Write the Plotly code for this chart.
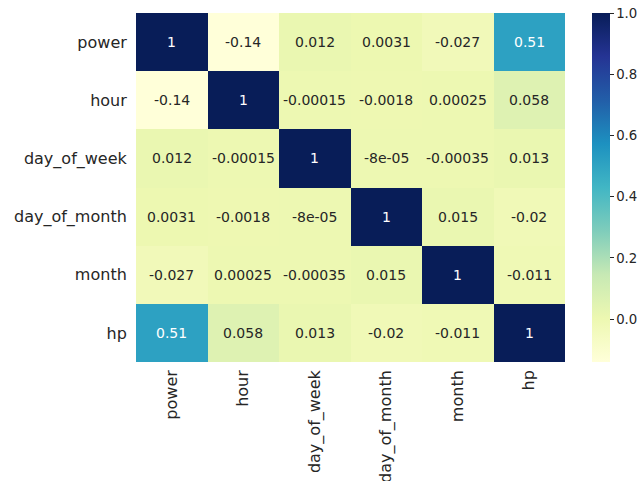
import plotly.graph_objects as go

labels = ["power", "hour", "day_of_week", "day_of_month", "month", "hp"]
row_power = [1, -0.14, 0.012, 0.0031, -0.027, 0.51]
row_hour = [-0.14, 1, -0.00015, -0.0018, 0.00025, 0.058]
row_dow = [0.012, -0.00015, 1, -8e-05, -0.00035, 0.013]
row_dom = [0.0031, -0.0018, -8e-05, 1, 0.015, -0.02]
row_month = [-0.027, 0.00025, -0.00035, 0.015, 1, -0.011]
row_hp = [0.51, 0.058, 0.013, -0.02, -0.011, 1]
cbar_ticks = [0.0, 0.2, 0.4, 0.6, 0.8, 1.0]

z = [row_power, row_hour, row_dow, row_dom, row_month, row_hp]

ylgnbu = [
    [0.0, "#ffffd9"], [0.125, "#edf8b1"], [0.25, "#c7e9b4"], [0.375, "#7fcdbb"],
    [0.5, "#41b6c4"], [0.625, "#1d91c0"], [0.75, "#225ea8"], [0.875, "#253494"],
    [1.0, "#081d58"],
]

zmin, zmax = -0.14, 1.0

fig = go.Figure(go.Heatmap(
    z=z, x=labels, y=labels,
    colorscale=ylgnbu, zmin=zmin, zmax=zmax,
    xgap=0, ygap=0,
    colorbar=dict(
        x=1.063, xanchor="left", xpad=0, ypad=0,
        thickness=18, len=1, lenmode="fraction", y=0.5, yanchor="middle",
        outlinewidth=0, ticks="outside", ticklen=4, tickwidth=1, tickcolor="#262626",
        tickvals=cbar_ticks, tickformat=".1f",
        tickfont=dict(family="DejaVu Sans", size=13.3, color="#262626"),
    ),
    hoverinfo="skip",
))

for i, row in enumerate(z):
    for j, v in enumerate(row):
        frac = (v - zmin) / (zmax - zmin)
        col = "white" if frac > 0.5 else "#262626"
        fig.add_annotation(x=labels[j], y=labels[i], text="{:.2g}".format(v),
                           showarrow=False,
                           font=dict(family="DejaVu Sans", size=14, color=col))

fig.update_layout(
    width=639, height=481,
    margin=dict(l=136, r=74, t=13, b=119, autoexpand=False),
    plot_bgcolor="white", paper_bgcolor="white",
    font=dict(family="DejaVu Sans", color="#262626"),
)
fig.update_xaxes(tickangle=-90, ticks="", ticklabelstandoff=4,
                 tickfont=dict(size=16, color="#262626"), showgrid=False, zeroline=False)
fig.update_yaxes(autorange="reversed", ticks="outside", ticklen=5, tickcolor="rgba(0,0,0,0)",
                 tickfont=dict(size=16, color="#262626"), showgrid=False, zeroline=False)

fig.write_html("out.html", config={"displayModeBar": False, "staticPlot": True},
               post_script="document.body.style.margin='0';document.body.style.overflow='hidden';")
